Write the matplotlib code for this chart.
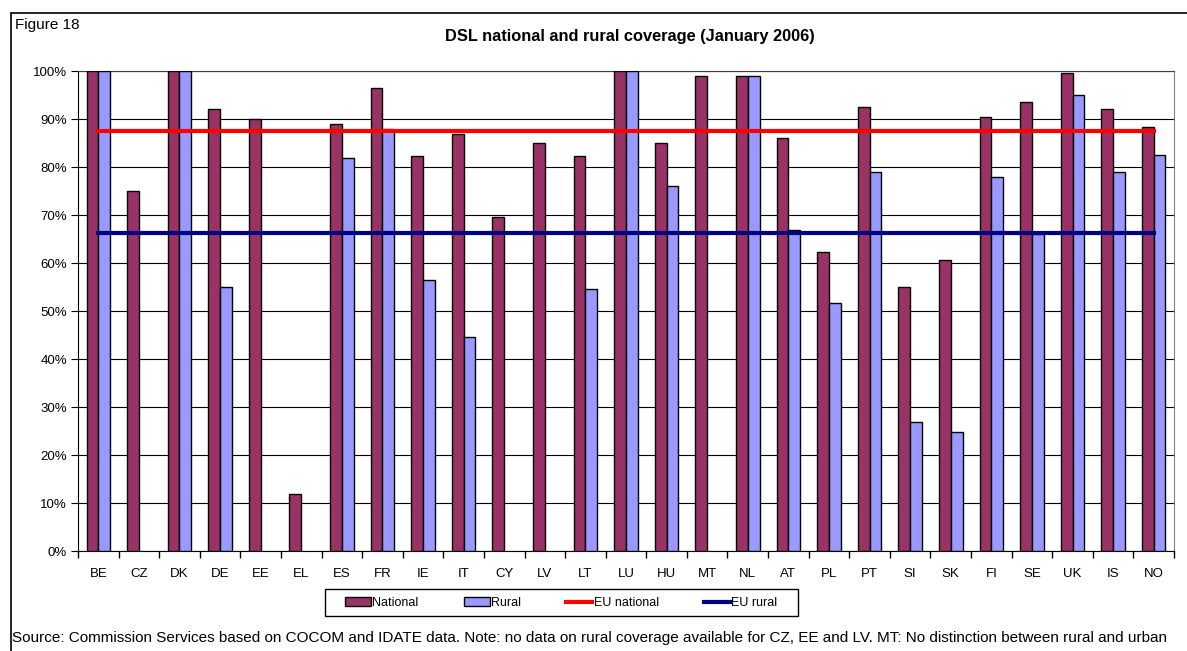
import matplotlib
matplotlib.use("Agg")
import matplotlib.pyplot as plt
import numpy as np
from matplotlib.patches import Rectangle, Patch
from matplotlib.lines import Line2D
from matplotlib.ticker import PercentFormatter, FixedLocator

plt.rcParams['font.family'] = ['Liberation Sans', 'DejaVu Sans']

countries = ['BE', 'CZ', 'DK', 'DE', 'EE', 'EL', 'ES', 'FR', 'IE', 'IT', 'CY', 'LV', 'LT',
             'LU', 'HU', 'MT', 'NL', 'AT', 'PL', 'PT', 'SI', 'SK', 'FI', 'SE', 'UK', 'IS', 'NO']
national = [100, 75, 100, 92, 90, 11.8, 89, 96.4, 82.3, 86.9, 69.6, 85, 82.2,
            100, 85, 99, 99, 86, 62.2, 92.6, 54.9, 60.6, 90.4, 93.5, 99.5, 92, 88.4]
rural = [100, np.nan, 100, 54.9, np.nan, np.nan, 81.9, 87.9, 56.4, 44.5, np.nan, np.nan, 54.5,
         100, 76, np.nan, 99, 66.9, 51.7, 79, 26.8, 24.8, 78, 66, 94.9, 79, 82.6]
eu_national = 87.4
eu_rural = 66.3

fig = plt.figure(figsize=(11.87, 6.51), dpi=100)
W, H = 1187, 651
ax = fig.add_axes([78 / W, 1 - 551 / H, (1174 - 78) / W, (551 - 71) / H])

x = np.arange(len(countries))
bw = 0.29
ax.bar(x - bw / 2, national, bw, color='#993366', edgecolor='black', linewidth=1, zorder=3)
ax.bar(x + bw / 2, rural, bw, color='#9999FF', edgecolor='black', linewidth=1, zorder=3)
ax.plot([x[0], x[-1]], [eu_national] * 2, color='#FF0000', linewidth=3, zorder=4)
ax.plot([x[0], x[-1]], [eu_rural] * 2, color='#000080', linewidth=3, zorder=4)

ax.set_xlim(-0.5, len(countries) - 0.5)
ax.set_ylim(0, 100)
ax.set_yticks(np.arange(0, 101, 10))
ax.yaxis.set_major_formatter(PercentFormatter(decimals=0))
ax.set_xticks(x)
ax.set_xticklabels(countries)
ax.xaxis.set_minor_locator(FixedLocator(np.arange(-0.5, len(countries), 1)))
ax.tick_params(axis='x', which='major', length=0, pad=12, labelsize=9.5)
ax.tick_params(axis='x', which='minor', length=5, direction='out', width=1)
ax.tick_params(axis='y', length=5, direction='out', labelsize=9.5, pad=3)
ax.grid(axis='y', color='black', linewidth=0.8, zorder=0)
for side in ['top', 'left', 'bottom']:
    ax.spines[side].set_color('black')
ax.spines['right'].set_color('#808080')
ax.spines['top'].set_color('#404040')

# outer frame
fig.patches.append(Rectangle((11 / W, -0.01), 1.1, 1 - 13 / H + 0.01, transform=fig.transFigure,
                             fill=False, edgecolor='black', linewidth=1.2))

fig.text(15 / W, 1 - 25 / H, 'Figure 18', fontsize=11, va='center', ha='left')
fig.text(630 / W, 1 - 36 / H, 'DSL national and rural coverage (January 2006)',
         fontsize=11.8, fontweight='bold', ha='center', va='center')

handles = [Patch(facecolor='#993366', edgecolor='black'),
           Patch(facecolor='#9999FF', edgecolor='black'),
           Line2D([], [], color='#FF0000', linewidth=3),
           Line2D([], [], color='#000080', linewidth=3)]
labels = ['National', 'Rural', 'EU national', 'EU rural']
fig.legend(handles, labels, ncol=4, loc='center', bbox_to_anchor=(561 / W, 1 - 603 / H),
           fontsize=9, frameon=False,
           handlelength=2.1, handleheight=0.7, handletextpad=0.1, columnspacing=3.6)
fig.patches.append(Rectangle((325 / W, 1 - 616 / H), (798 - 325) / W, 27 / H,
                             transform=fig.transFigure, fill=False, edgecolor='black', linewidth=1))

fig.text(12 / W, 1 - 638 / H,
         'Source: Commission Services based on COCOM and IDATE data. Note: no data on rural coverage '
         'available for CZ, EE and LV. MT: No distinction between rural and urban',
         fontsize=11, ha='left', va='center')

fig.savefig('out.png', dpi=100)
